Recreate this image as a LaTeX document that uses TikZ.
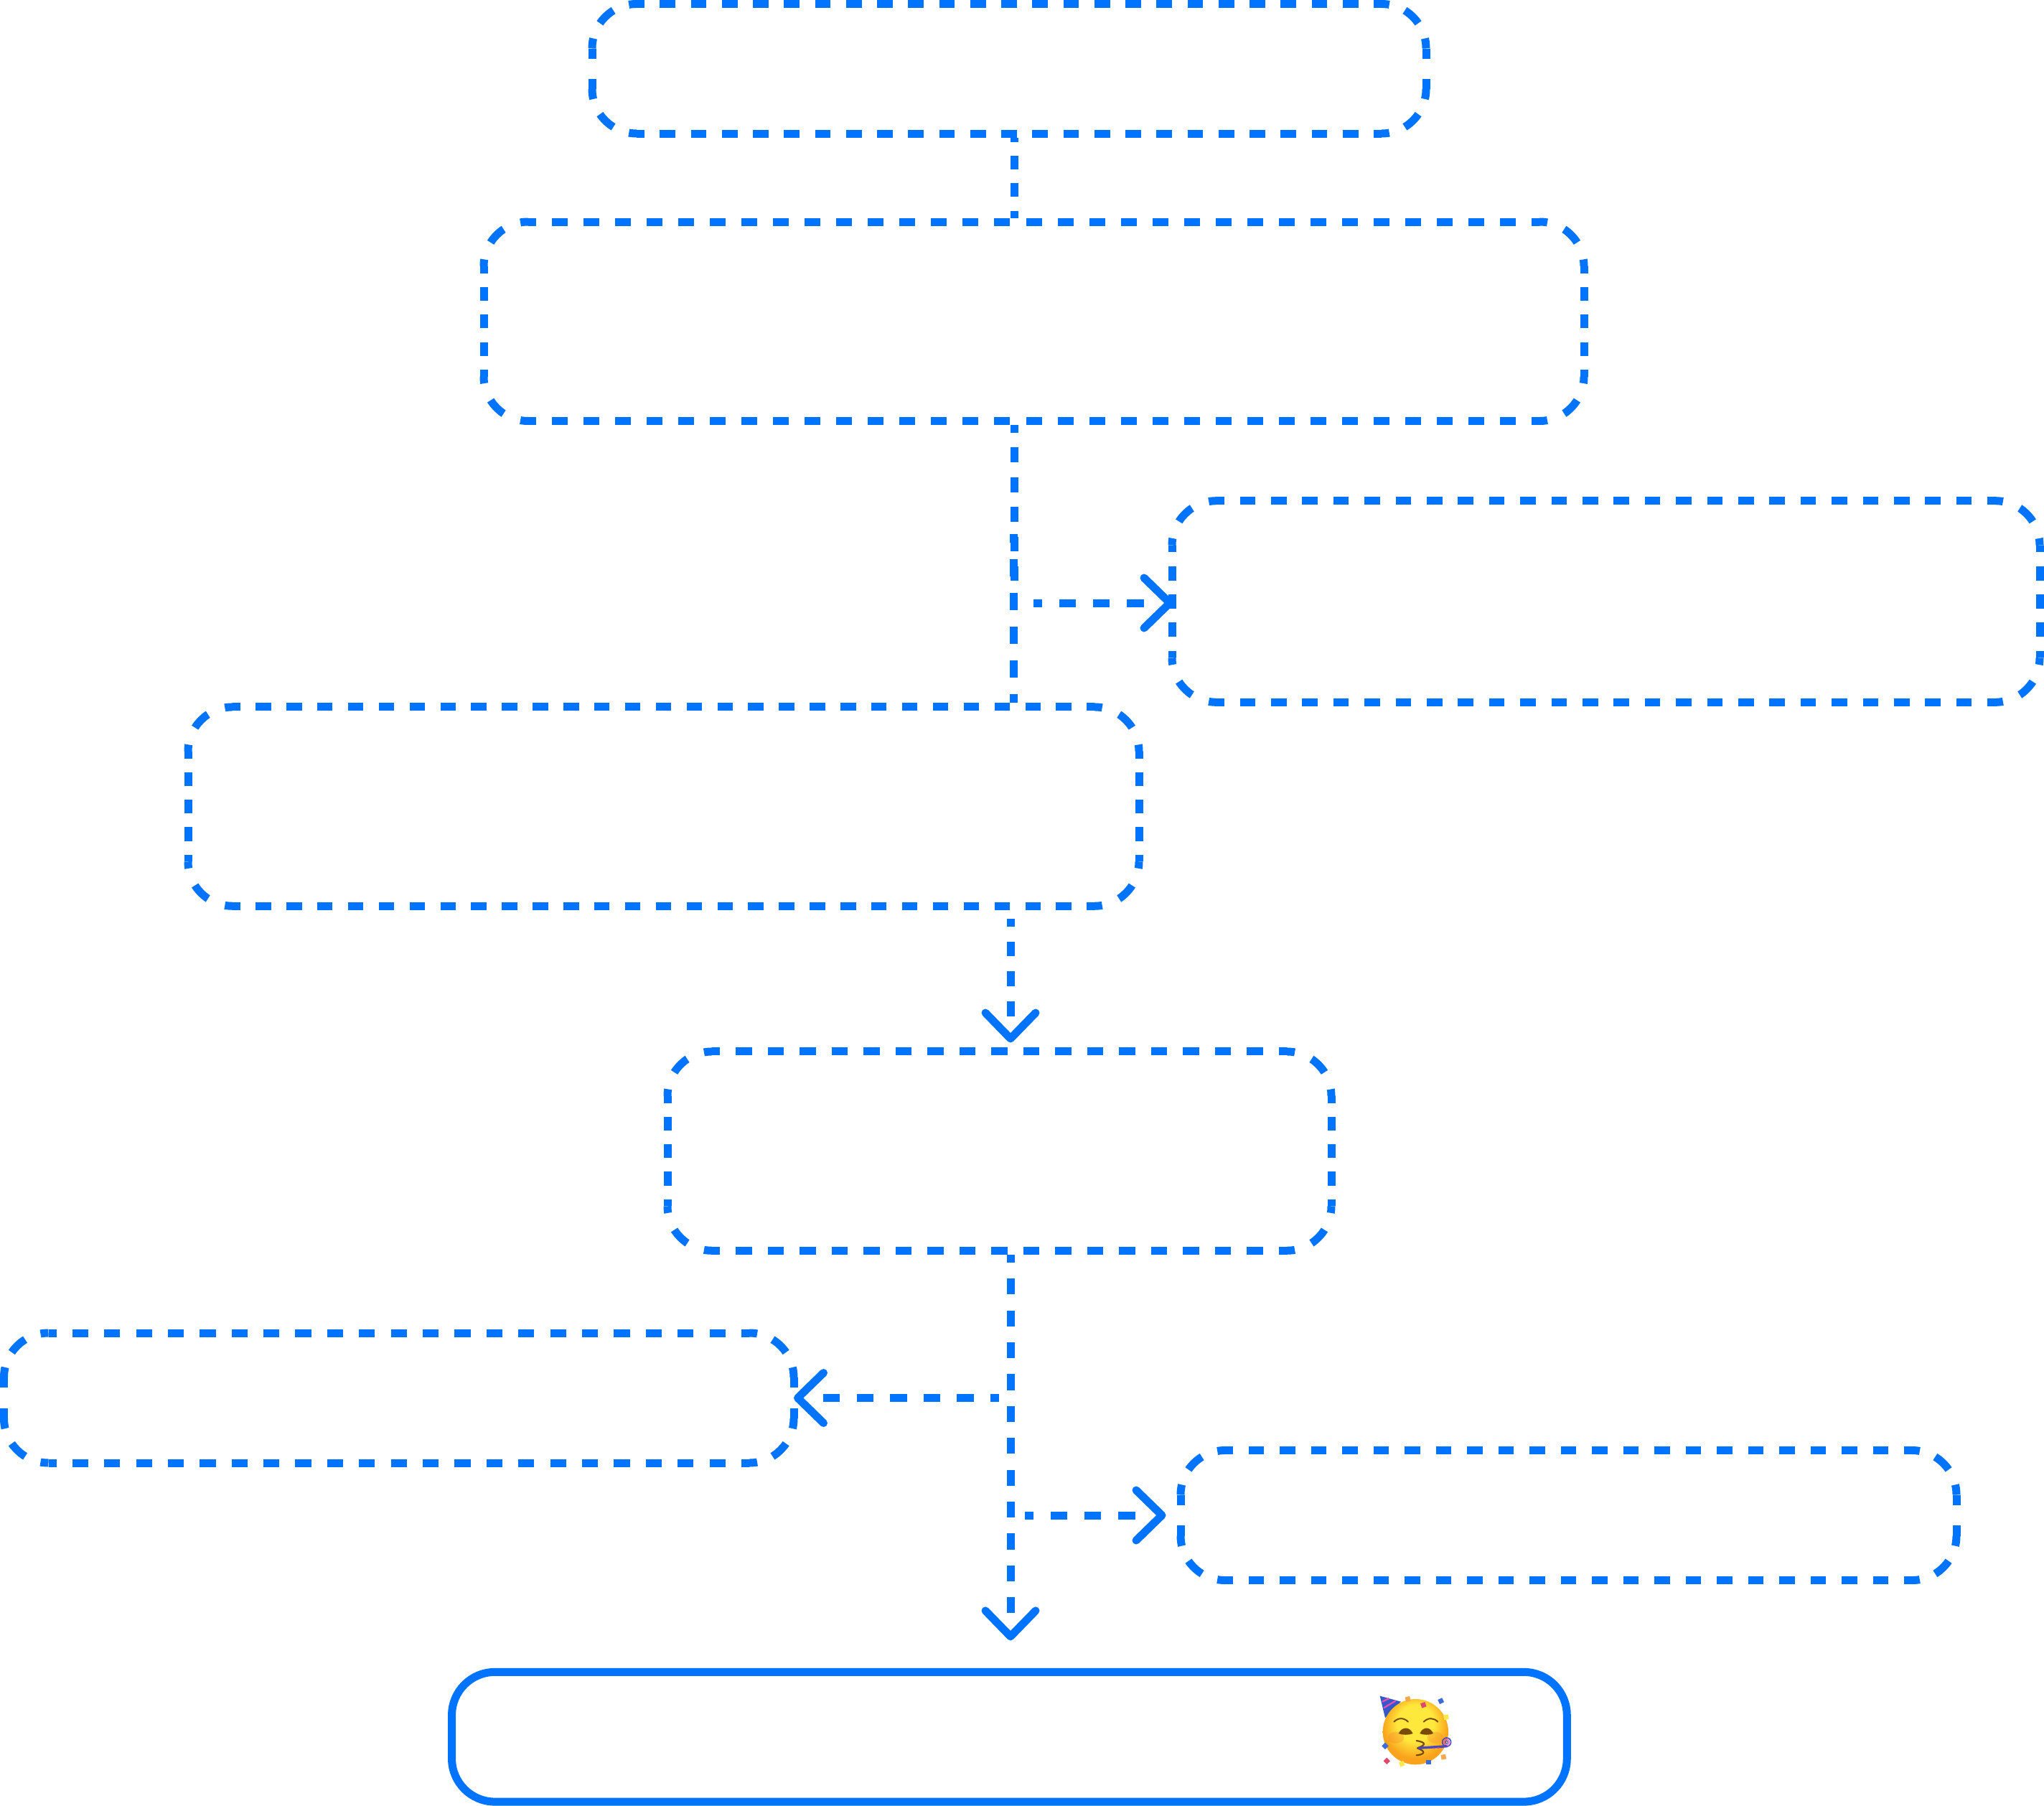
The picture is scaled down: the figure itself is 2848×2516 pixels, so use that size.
\documentclass[tikz,border=0pt]{standalone}
\usepackage{xcolor}
\definecolor{flow-blue}{HTML}{0073FF}
\definecolor{face-yellow}{HTML}{FFE83C}
\definecolor{face-orange}{HTML}{F9A31C}
\definecolor{face-brown}{HTML}{7A4A08}
\definecolor{blush}{HTML}{F98A2C}
\definecolor{hat-blue}{HTML}{3558C8}
\definecolor{hat-pink}{HTML}{F04CB8}
\definecolor{horn-blue}{HTML}{4A48C0}
\definecolor{bit-red}{HTML}{E0486E}
\definecolor{bit-yellow}{HTML}{FCE84C}
\definecolor{bit-orange}{HTML}{F8A848}
\definecolor{bit-blue}{HTML}{3C6CD8}
\usetikzlibrary{arrows.meta}

\pgfdeclareradialshading{facelight}{\pgfpoint{0bp}{9bp}}{
    color(0bp)=(face-yellow); color(14bp)=(face-yellow); color(25bp)=(face-orange); color(50bp)=(face-orange)}

% Adds #1 dashes of length #2 to the pattern
\newcommand{\addruns}[2]{\foreach \k in {1,...,#1}{\xdef\flowpat{\flowpat on #2pt off #2pt }}}

\tikzset{
    flowline/.style={draw=flow-blue, line width=11pt},
    flowtip/.style={-{Straight Barb[length=36pt, width=70pt, line width=11pt, round]}},
    % first dash, dash length, further dashes
    dashrun/.code n args={3}{%
        \xdef\flowpat{on #1pt off #2pt }%
        \addruns{#3}{#2}%
        \xdef\flowpat{\flowpat on 0pt off 400pt}%
        \pgfkeysalso{dash pattern/.expanded=\flowpat}},
    % width, height, dashes along the top, dashes along the side
    flowbox/.code n args={4}{%
        \pgfmathsetmacro\dashH{(#1-124)/#3/2}%
        \pgfmathsetmacro\dashV{(#2-124)/#4/2}%
        \pgfmathsetmacro\gapC{(97.4-\dashV/2-\dashH/2-26)/2}%
        \pgfmathsetmacro\halfH{\dashH/2}%
        \pgfmathsetmacro\halfV{\dashV/2}%
        \xdef\sideH{on \dashH pt off \dashH pt}\xdef\phaseH{\halfH pt}%
        \xdef\sideV{on \dashV pt off \dashV pt}\xdef\phaseV{\halfV pt}%
        \xdef\cornerVH{on \halfV pt off \gapC pt on 26pt off \gapC pt on \halfH pt off 400pt}%
        \xdef\cornerHV{on \halfH pt off \gapC pt on 26pt off \gapC pt on \halfV pt off 400pt}%
        \pgfkeysalso{line width=11pt, inner sep=0pt, minimum width=#1pt, minimum height=#2pt,
            append after command={\pgfextra{
                % Long edges
                \draw[flowline, dash pattern/.expanded=\sideH, dash phase=\phaseH]
                    ([shift={(67.5pt,-5.5pt)}]\tikzlastnode.north west) -- ([shift={(-67.5pt,-5.5pt)}]\tikzlastnode.north east);
                \draw[flowline, dash pattern/.expanded=\sideH, dash phase=\phaseH]
                    ([shift={(67.5pt,5.5pt)}]\tikzlastnode.south west) -- ([shift={(-67.5pt,5.5pt)}]\tikzlastnode.south east);
                % Short edges
                \draw[flowline, dash pattern/.expanded=\sideV, dash phase=\phaseV]
                    ([shift={(5.5pt,-67.5pt)}]\tikzlastnode.north west) -- ([shift={(5.5pt,67.5pt)}]\tikzlastnode.south west);
                \draw[flowline, dash pattern/.expanded=\sideV, dash phase=\phaseV]
                    ([shift={(-5.5pt,-67.5pt)}]\tikzlastnode.north east) -- ([shift={(-5.5pt,67.5pt)}]\tikzlastnode.south east);
                % Corners
                \draw[flowline, dash pattern/.expanded=\cornerVH]
                    ([shift={(5.5pt,-67.5pt)}]\tikzlastnode.north west) arc[start angle=180, end angle=90, radius=62pt];
                \draw[flowline, dash pattern/.expanded=\cornerHV]
                    ([shift={(-67.5pt,-5.5pt)}]\tikzlastnode.north east) arc[start angle=90, end angle=0, radius=62pt];
                \draw[flowline, dash pattern/.expanded=\cornerVH]
                    ([shift={(-5.5pt,67.5pt)}]\tikzlastnode.south east) arc[start angle=0, end angle=-90, radius=62pt];
                \draw[flowline, dash pattern/.expanded=\cornerHV]
                    ([shift={(67.5pt,5.5pt)}]\tikzlastnode.south west) arc[start angle=-90, end angle=-180, radius=62pt];
            }}}},
    endbox/.style={draw=flow-blue, line width=11pt, inner sep=0pt, rounded corners=60pt,
        minimum width=1553.7pt, minimum height=180.7pt}
}

\begin{document}
\begin{tikzpicture}[x=1pt, y=-1pt]

    \useasboundingbox (0, 0) rectangle (2848, 2516);

    % Boxes
    \node[flowbox={1162}{180.5}{24}{1}] (first) at (1406, 95.75) {};
    \node[flowbox={1533}{277.5}{32}{4}] (second) at (1440.5, 447.75) {};
    \node[flowbox={1209}{280.6}{25}{4}] (aside) at (2237.5, 838) {};
    \node[flowbox={1325}{277.3}{28}{4}] (third) at (924.5, 1123.6) {};
    \node[flowbox={925}{277.3}{18}{4}] (fourth) at (1392.5, 1603.6) {};
    \node[flowbox={1100.5}{181}{22}{1}] (leftout) at (555.75, 1947.5) {};
    \node[flowbox={1081}{181}{22}{1}] (rightout) at (2185.5, 2111) {};
    \node[endbox] (last) at (1406.4, 2419.7) {};

    % Spine points
    \coordinate (spineA) at (1413.3, 809);
    \coordinate (spineB) at (1412.5, 744);
    \coordinate (branchA) at (1440, 840);
    \coordinate (spineC) at (1408, 1280);
    \coordinate (spineD) at (1408, 1748);
    \coordinate (branchB) at (1392, 1947.5);
    \coordinate (branchC) at (1428, 2111);

    % Connectors
    \draw[flowline, dashrun={6.5}{19.1}{3}] (spineA |- first.south) -- (spineA |- second.north);
    \draw[flowline, dashrun={10.7}{20.7}{5}] (spineA |- second.south) -- (spineA);
    \draw[flowline, dashrun={11.7}{23.5}{5}] (spineB) -- (spineB |- third.north);
    \draw[flowline, flowtip, dashrun={12}{23.6}{3}, shorten >=-8pt] (branchA) -- (branchA -| aside.west);
    \draw[flowline, flowtip, dashrun={10.7}{20.8}{3}, shorten >=7pt] (spineC) -- (spineC |- fourth.north);
    \draw[flowline, flowtip, dashrun={11}{22.2}{11}, shorten >=38.5pt] (spineD) -- (spineD |- last.north);
    \draw[flowline, flowtip, dashrun={12}{23.3}{5}, shorten >=-5.5pt] (branchB) -- (branchB -| leftout.east);
    \draw[flowline, flowtip, dashrun={12}{23.6}{3}, shorten >=15pt] (branchC) -- (branchC -| rightout.west);

    % Party face
    \begin{scope}[shift={(1850, 2300)}, x=0.3333pt, y=-0.3333pt]

        % Hat
        \fill[hat-blue] (218, 188) -- (306, 212) -- (240, 280) -- cycle;
        \draw[hat-pink, line width=2.2pt] (228, 212) -- (256, 198);
        \draw[hat-pink, line width=2.2pt] (234, 238) -- (284, 208);

        % Head
        \shade[shading=facelight] (367, 338) circle (137);
        \fill[blush, opacity=0.35] (285, 362) ellipse (34 and 24);
        \fill[blush, opacity=0.35] (450, 362) ellipse (34 and 24);

        % Brows and eyes
        \draw[face-brown, line width=2pt, line cap=round] (277, 296) .. controls (295, 278) and (318, 278) .. (336, 296);
        \draw[face-brown, line width=2pt, line cap=round] (401, 296) .. controls (420, 278) and (442, 278) .. (460, 296);
        \fill[face-brown] (296, 345) .. controls (310, 315) and (342, 315) .. (356, 345) .. controls (340, 352) and (312, 352) .. (296, 345) -- cycle;
        \fill[face-brown] (385, 345) .. controls (398, 315) and (428, 315) .. (441, 345) .. controls (426, 352) and (400, 352) .. (385, 345) -- cycle;

        % Mouth
        \draw[face-brown, line width=2.2pt, line join=round, line cap=round] (371, 375) .. controls (392, 378) and (404, 384) .. (402, 390) .. controls (400, 396) and (386, 402) .. (375, 406) .. controls (388, 412) and (402, 418) .. (400, 425) .. controls (398, 431) and (384, 435) .. (371, 436);

        % Blower
        \draw[horn-blue, line width=3.4pt] (378, 406) -- (500, 398);
        \fill[bit-red] (462, 405) circle (4);
        \fill[bit-red] (444, 407) circle (3);
        \draw[horn-blue, line width=1.6pt] (497, 381) circle (18);
        \draw[hat-pink, line width=0.9pt] (497, 381) circle (12);
        \draw[horn-blue, line width=1.2pt] (497, 381) circle (6);

        % Confetti
        \foreach \cx/\cy/\bit/\tilt in {335/201/bit-orange/15, 400/226/bit-red/20, 473/209/bit-blue/25,
            495/277/bit-yellow/10, 240/397/bit-blue/45, 247/460/bit-red/45, 310/472/bit-yellow/20,
            422/465/bit-blue/0, 484/443/bit-orange/10}{
            \fill[\bit, rotate around={\tilt:(\cx, \cy)}] (\cx-10, \cy-10) rectangle (\cx+10, \cy+10);
        }
    \end{scope}

\end{tikzpicture}
\end{document}
